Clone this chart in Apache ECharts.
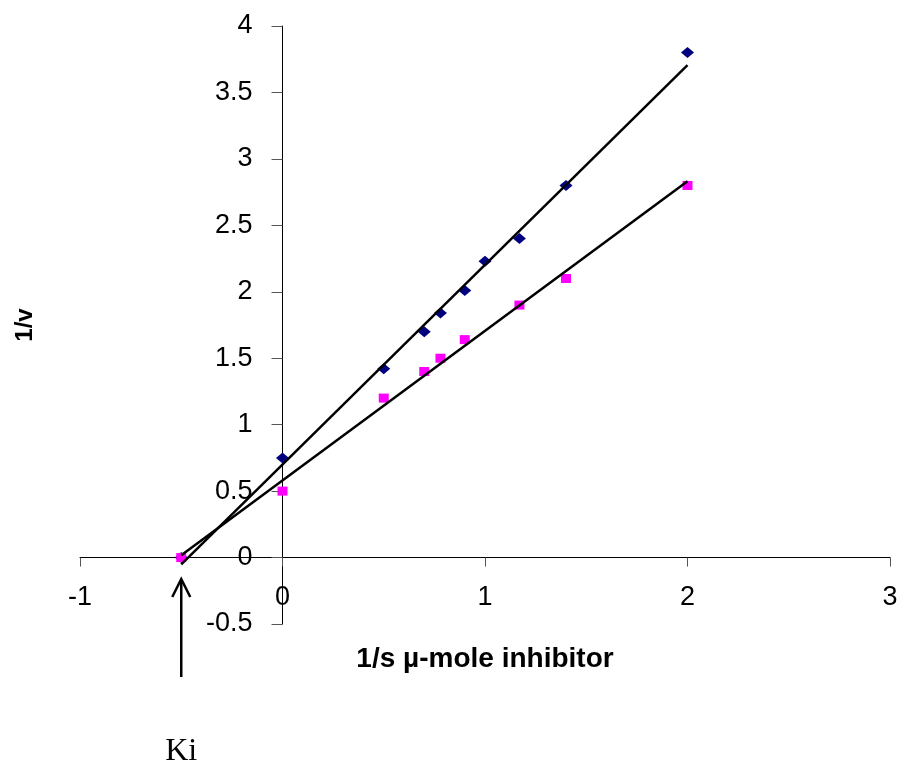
<!DOCTYPE html>
<html lang="en">
<head>
    <meta charset="UTF-8">
    <title>Ki plot</title>
    <style>
        html, body { margin: 0; padding: 0; background: #fff; }
    </style>
</head>
<body>
<div id="myChart" style="width: 902px;height: 761px;"></div>
<script src="https://cdn.jsdelivr.net/npm/echarts@6/dist/echarts.min.js"></script>
<script>
    var myChart = echarts.init(document.querySelector("#myChart"));

    // 1/s values and 1/v readings for the two series
    let blueX = [-0.5, 0, 0.5, 0.7, 0.78, 0.9, 1.0, 1.17, 1.4, 2];
    let blueY = [0, 0.75, 1.42, 1.7, 1.84, 2.01, 2.23, 2.4, 2.8, 3.8];
    let pinkX = [-0.5, 0, 0.5, 0.7, 0.78, 0.9, 1.17, 1.4, 2];
    let pinkY = [0, 0.5, 1.2, 1.4, 1.5, 1.64, 1.9, 2.1, 2.8];

    let kiX = -0.5; // where the arrow points

    function pairs(xs, ys) {
        return xs.map(function (x, i) { return [x, ys[i]]; });
    }

    // least squares trend line, from first to last x
    function trend(xs, ys) {
        let n = xs.length, sx = 0, sy = 0, sxy = 0, sxx = 0;
        for (let i = 0; i < n; i++) {
            sx += xs[i]; sy += ys[i];
            sxy += xs[i] * ys[i]; sxx += xs[i] * xs[i];
        }
        let b = (n * sxy - sx * sy) / (n * sxx - sx * sx);
        let a = (sy - b * sx) / n;
        let x0 = Math.min.apply(null, xs), x1 = Math.max.apply(null, xs);
        return [[x0, a + b * x0], [x1, a + b * x1]];
    }

    let font = "'Liberation Sans', Arial, sans-serif";

    let option = {
        animation: false,
        backgroundColor: '#fff',
        grid: { left: 80, right: 12, top: 26, bottom: 137, containLabel: false, outerBoundsMode: 'none' },
        xAxis: {
            type: 'value',
            position: 'bottom',
            min: -1, max: 3, interval: 1,
            name: '1/s µ-mole inhibitor',
            nameLocation: 'middle',
            nameGap: 88,
            nameTextStyle: { fontFamily: font, fontSize: 28, fontWeight: 'bold', color: '#000' },
            axisLine: { onZero: false, lineStyle: { color: '#000', width: 1 } },
            axisTick: { show: true, length: 9, lineStyle: { color: '#555' } },
            axisLabel: { margin: 26, fontFamily: font, fontSize: 27, color: '#000' },
            splitLine: { show: false }
        },
        yAxis: {
            type: 'value',
            position: 'left',
            min: -0.5, max: 4, interval: 0.5,
            name: '1/v',
            nameLocation: 'middle',
            nameGap: 245,
            nameTextStyle: { fontFamily: font, fontSize: 24, fontWeight: 'bold', color: '#000' },
            axisLine: { onZero: false, lineStyle: { color: '#000', width: 1 } },
            axisTick: { show: true, length: 11, lineStyle: { color: '#555' } },
            axisLabel: { margin: 30, fontFamily: font, fontSize: 27, color: '#000' },
            splitLine: { show: false }
        },
        series: [
            {
                type: 'scatter',
                symbol: 'diamond',
                symbolSize: [13, 11],
                itemStyle: { color: '#000080', opacity: 1 },
                data: pairs(blueX, blueY),
                z: 2
            },
            {
                type: 'scatter',
                symbol: 'rect',
                symbolSize: [10, 9],
                itemStyle: { color: '#FF00FF', opacity: 1 },
                data: pairs(pinkX, pinkY),
                z: 3
            },
            {
                type: 'line',
                showSymbol: false,
                lineStyle: { color: '#000', width: 2.5 },
                data: trend(blueX, blueY),
                z: 4
            },
            {
                type: 'line',
                showSymbol: false,
                lineStyle: { color: '#000', width: 2.5 },
                data: trend(pinkX, pinkY),
                z: 4
            }
        ]
    };
    myChart.setOption(option);

    // move both axes (line, ticks, labels, name) so they cross at the origin
    let origin = myChart.convertToPixel({ gridIndex: 0 }, [0, 0]);
    let corner = myChart.convertToPixel({ gridIndex: 0 }, [-1, -0.5]);
    let ax = myChart.convertToPixel({ gridIndex: 0 }, [kiX, 0])[0];

    myChart.setOption({
        xAxis: { offset: -(corner[1] - origin[1]) },
        yAxis: { offset: -(origin[0] - corner[0]) },
        // arrow and "Ki" annotation below the x axis
        graphic: [
            {
                type: 'line',
                shape: { x1: ax, y1: 677, x2: ax, y2: 580 },
                style: { stroke: '#000', lineWidth: 2.5 }
            },
            {
                type: 'polyline',
                shape: { points: [[ax - 9, 597], [ax, 579], [ax + 9, 597]] },
                style: { stroke: '#000', lineWidth: 2.5, fill: null }
            },
            {
                type: 'text',
                x: ax,
                y: 736,
                style: {
                    text: 'Ki',
                    fontFamily: "'Liberation Serif', 'Times New Roman', serif",
                    fontSize: 32,
                    fill: '#000',
                    align: 'center',
                    verticalAlign: 'top'
                }
            }
        ]
    });
</script>
</body>
</html>
